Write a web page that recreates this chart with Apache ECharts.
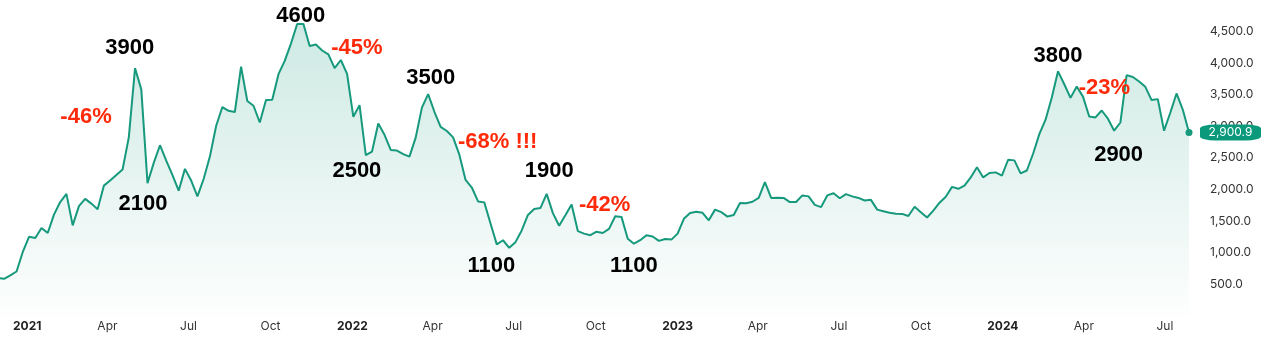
<!DOCTYPE html>
<html>
<head>
<meta charset="utf-8">
<script src="https://cdn.jsdelivr.net/npm/echarts@6/dist/echarts.min.js"></script>
<style>
html, body { margin: 0; padding: 0; background: #fff; }
#chart { width: 1272px; height: 352px; }
</style>
</head>
<body>
<div id="chart"></div>
<script>
// weekly closes, first week is 2020-11-29, one value per week
var firstWeek = [2020, 10, 29]
var prices2020 = [600, 585, 640, 700, 1010]
var prices2021 = [1250, 1230, 1390, 1310, 1600, 1800, 1930, 1430, 1735, 1850, 1775, 1685, 2060,
    2140, 2230, 2315, 2825, 3920, 3585, 2100, 2420, 2700, 2455, 2225, 1980, 2325,
    2140, 1890, 2165, 2520, 3005, 3305, 3245, 3225, 3945, 3400, 3325, 3060, 3415,
    3420, 3825, 4035, 4310, 4620, 4620, 4270, 4295, 4200, 4140, 3920, 4050, 3830]
var prices2022 = [3150, 3335, 2545, 2600, 3045, 2865, 2625, 2615, 2560, 2520, 2820, 3295, 3510,
    3230, 2990, 2925, 2825, 2550, 2150, 2030, 1810, 1795, 1460, 1130, 1195, 1075,
    1165, 1350, 1595, 1690, 1705, 1930, 1625, 1425, 1590, 1760, 1340, 1300, 1275,
    1330, 1310, 1375, 1575, 1565, 1220, 1140, 1195, 1275, 1255, 1185, 1215, 1205]
var prices2023 = [1300, 1535, 1625, 1645, 1630, 1510, 1680, 1640, 1570, 1595, 1785, 1780, 1805,
    1865, 2115, 1865, 1870, 1865, 1800, 1800, 1905, 1890, 1755, 1720, 1905, 1940,
    1860, 1925, 1890, 1865, 1825, 1835, 1680, 1655, 1630, 1615, 1612, 1580, 1725,
    1640, 1555, 1665, 1790, 1885, 2040, 2010, 2060, 2190, 2350, 2190, 2260, 2270, 2220]
var prices2024 = [2470, 2460, 2255, 2300, 2565, 2875, 3105, 3455, 3870, 3665, 3450, 3630, 3470,
    3155, 3140, 3250, 3120, 2930, 3060, 3810, 3780, 3710, 3625, 3415, 3430, 2930,
    3215, 3520, 3265, 2900.9]

// axis labels: quarter starts
var tickDates = ['2021-01-01', '2021-04-01', '2021-07-01', '2021-10-01',
    '2022-01-01', '2022-04-01', '2022-07-01', '2022-10-01',
    '2023-01-01', '2023-04-01', '2023-07-01', '2023-10-01',
    '2024-01-01', '2024-04-01', '2024-07-01']
var monthNames = ['Jan', 'Feb', 'Mar', 'Apr', 'May', 'Jun', 'Jul', 'Aug', 'Sep', 'Oct', 'Nov', 'Dec']

// notes written on the chart
var noteText = ['3900', '-46%', '2100', '4600', '-45%', '2500', '3500', '-68% !!!', '1900',
    '1100', '-42%', '1100', '3800', '-23%', '2900']
var noteDate = ['2021-04-26', '2021-03-08', '2021-05-11', '2021-11-04', '2022-01-06', '2022-01-06',
    '2022-03-30', '2022-06-13', '2022-08-10', '2022-06-06', '2022-10-11', '2022-11-13',
    '2024-03-03', '2024-04-24', '2024-05-10']
var noteValue = [4245, 3153, 1770, 4754, 4243, 2298, 3770, 2756, 2298, 784, 1762, 784, 4112, 3612, 2550]

var lineColor = '#16997c'
var dropColor = '#ff2a0a'

function toTime(s) {
    var p = s.split('-')
    return new Date(+p[0], +p[1] - 1, +p[2]).getTime()
}

var prices = prices2020.concat(prices2021, prices2022, prices2023, prices2024)
var points = []
for (var i = 0; i < prices.length; i++) {
    var t = new Date(firstWeek[0], firstWeek[1], firstWeek[2] + 7 * i).getTime()
    points.push([t, prices[i]])
}
var last = points[points.length - 1]

var notes = []
for (var j = 0; j < noteText.length; j++) {
    notes.push({
        name: noteText[j],
        value: [toTime(noteDate[j]), noteValue[j]],
        label: { color: noteText[j].charAt(0) === '-' ? dropColor : '#000' }
    })
}

function fmtNum(v) {
    return v.toLocaleString('en-US', { minimumFractionDigits: 1, maximumFractionDigits: 1 })
}

var chart = echarts.init(document.getElementById('chart'))
var option = {
    animation: false,
    backgroundColor: '#fff',
    grid: { left: 0, right: 83, top: -1.4, bottom: 36.3 },
    xAxis: {
        // timestamps on a plain value axis so the quarter labels can be placed exactly
        type: 'value',
        min: new Date(2020, 11, 1, 10).getTime(),
        max: last[0],
        axisLine: { show: false },
        axisTick: { show: false },
        splitLine: { show: false },
        axisLabel: {
            customValues: tickDates.map(toTime),
            showMinLabel: true,
            showMaxLabel: true,
            margin: 5,
            fontFamily: 'Inter',
            fontSize: 12,
            color: '#333',
            formatter: function (val) {
                var d = new Date(val)
                return d.getMonth() === 0 ? '{y|' + d.getFullYear() + '}' : monthNames[d.getMonth()]
            },
            rich: {
                y: { fontFamily: 'Inter', fontSize: 12, fontWeight: 'bold', color: '#222' }
            }
        }
    },
    yAxis: {
        type: 'value',
        position: 'right',
        min: 0,
        max: 5000,
        interval: 500,
        axisLine: { show: false },
        axisTick: { show: false },
        splitLine: { show: false },
        axisLabel: {
            margin: 21,
            showMinLabel: false,
            showMaxLabel: false,
            fontFamily: 'Inter',
            fontSize: 12,
            color: '#333',
            formatter: fmtNum
        }
    },
    series: [
        {
            type: 'line',
            data: points,
            symbol: 'none',
            clip: false,
            lineStyle: { color: lineColor, width: 2 },
            areaStyle: {
                color: new echarts.graphic.LinearGradient(0, 0, 0, 1, [
                    { offset: 0, color: 'rgba(22,153,124,0.30)' },
                    { offset: 1, color: 'rgba(22,153,124,0.01)' }
                ])
            },
            markPoint: {
                data: [
                    {
                        coord: last, symbol: 'circle', symbolSize: 7,
                        itemStyle: { color: lineColor }, label: { show: false }
                    },
                    {
                        coord: last, symbol: 'roundRect', symbolSize: [61, 16], symbolOffset: [41.5, 0],
                        itemStyle: { color: '#0a9a7b' },
                        label: {
                            show: true, position: 'inside', formatter: fmtNum(last[1]),
                            color: '#fff', fontFamily: 'Inter', fontSize: 12
                        }
                    }
                ]
            }
        },
        {
            type: 'scatter',
            data: notes,
            symbolSize: 1,
            itemStyle: { color: 'rgba(0,0,0,0)', opacity: 1 },
            z: 5,
            label: {
                show: true,
                position: 'inside',
                formatter: '{b}',
                opacity: 1,
                fontFamily: 'Liberation Sans, Arial',
                fontSize: 22,
                fontWeight: 'bold'
            }
        }
    ]
}
chart.setOption(option)
</script>
</body>
</html>
